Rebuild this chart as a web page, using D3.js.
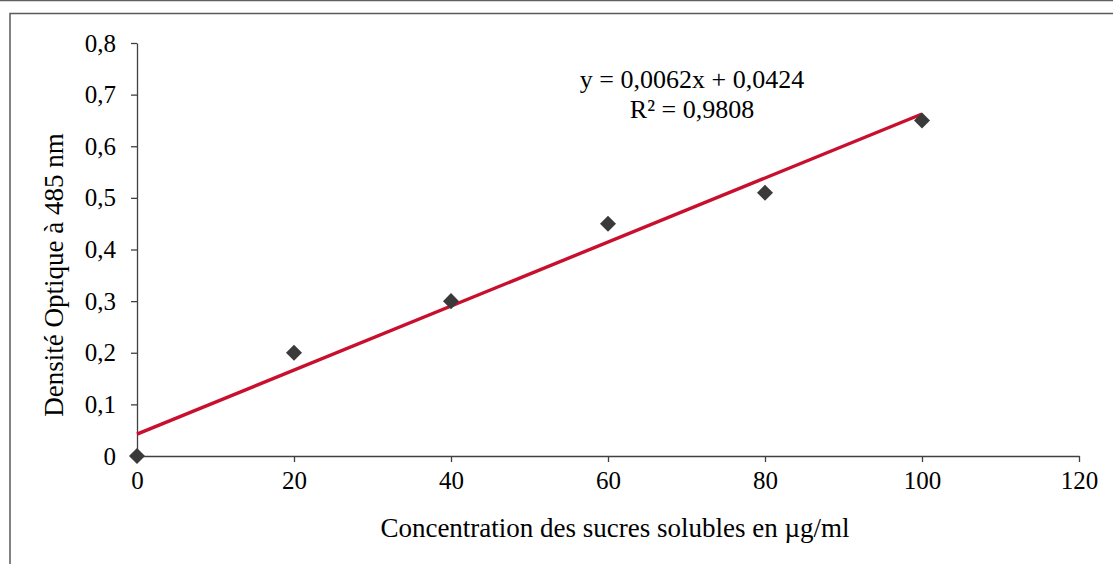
<!DOCTYPE html>
<html>
<head>
<meta charset="utf-8">
<script src="https://cdn.jsdelivr.net/npm/d3@7"></script>
<style>
  body { margin: 0; background: #fff; }
  svg text { font-family: "Liberation Serif", "Times New Roman", serif; fill: #000; }
</style>
</head>
<body>
<svg id="chart" width="1113" height="564"></svg>
<script>
/** Data */
var concentrations = [0, 20, 40, 60, 80, 100];
var densities = [0, 0.2, 0.3, 0.45, 0.51, 0.65];

/** Linear trend line given on the chart */
var slope = 0.0062,
    intercept = 0.0424;
var equationLines = ['y = 0,0062x + 0,0424', 'R² = 0,9808'];

var xTicks = [0, 20, 40, 60, 80, 100, 120];
var yTicks = [0, 0.1, 0.2, 0.3, 0.4, 0.5, 0.6, 0.7, 0.8];

var xLabel = 'Concentration des sucres solubles en µg/ml',
    yLabel = 'Densité Optique à 485 nm';

/** Plot area */
var plotLeft = 137, plotRight = 1079, plotTop = 43, plotBottom = 456;

var svg = d3.select('#chart');

// outer frame
svg.append('line')
    .attr('x1', 0).attr('x2', 1113)
    .attr('y1', 0.5).attr('y2', 0.5)
    .attr('stroke', '#606060').attr('stroke-width', 1.5);
svg.append('rect')
    .attr('x', 10).attr('y', 13.5)
    .attr('width', 1200).attr('height', 600)
    .attr('fill', 'none')
    .attr('stroke', '#5a5a5a').attr('stroke-width', 1.5);

var x = d3.scaleLinear().domain([0, 120]).range([plotLeft, plotRight]);
var y = d3.scaleLinear().domain([0, 0.8]).range([plotBottom, plotTop]);

var fmt = function (d) { return d3.format('.1~f')(d).replace('.', ','); };

var xAxis = d3.axisBottom(x).tickValues(xTicks).tickSize(6).tickSizeOuter(0).tickPadding(9);
var yAxis = d3.axisLeft(y).tickValues(yTicks).tickSize(6).tickSizeOuter(0).tickPadding(15)
    .tickFormat(fmt);

var gx = svg.append('g')
    .attr('transform', 'translate(0,' + plotBottom + ')')
    .call(xAxis);
var gy = svg.append('g')
    .attr('transform', 'translate(' + plotLeft + ',0)')
    .call(yAxis);

[gx, gy].forEach(function (g) {
    g.selectAll('path, line').attr('stroke', '#404040').attr('stroke-width', 1.3);
    g.selectAll('text')
        .style('font-family', '"Liberation Serif", "Times New Roman", serif')
        .style('font-size', '25px')
        .attr('fill', '#000');
});

// trend line
svg.append('line')
    .attr('x1', x(0)).attr('y1', y(intercept))
    .attr('x2', x(100)).attr('y2', y(slope * 100 + intercept))
    .attr('stroke', '#c8102e')
    .attr('stroke-width', 3.4);

// data points
var diamond = d3.symbol().type(d3.symbolSquare).size(128);
svg.selectAll('.pt')
    .data(concentrations)
    .enter()
    .append('path')
    .attr('class', 'pt')
    .attr('d', diamond)
    .attr('transform', function (d, i) {
        return 'translate(' + x(d) + ',' + y(densities[i]) + ') rotate(45)';
    })
    .attr('fill', '#3a3a3a');

// equation
svg.selectAll('.eq')
    .data(equationLines)
    .enter()
    .append('text')
    .attr('class', 'eq')
    .attr('x', 692)
    .attr('y', function (d, i) { return 88 + i * 30; })
    .attr('text-anchor', 'middle')
    .style('font-size', '26px')
    .text(function (d) { return d; });

// axis titles
svg.append('text')
    .attr('x', 615)
    .attr('y', 537)
    .attr('text-anchor', 'middle')
    .style('font-size', '27px')
    .text(xLabel);

svg.append('text')
    .attr('transform', 'translate(63,' + 275 + ') rotate(-90)')
    .attr('text-anchor', 'middle')
    .style('font-size', '27px')
    .text(yLabel);
</script>
</body>
</html>
